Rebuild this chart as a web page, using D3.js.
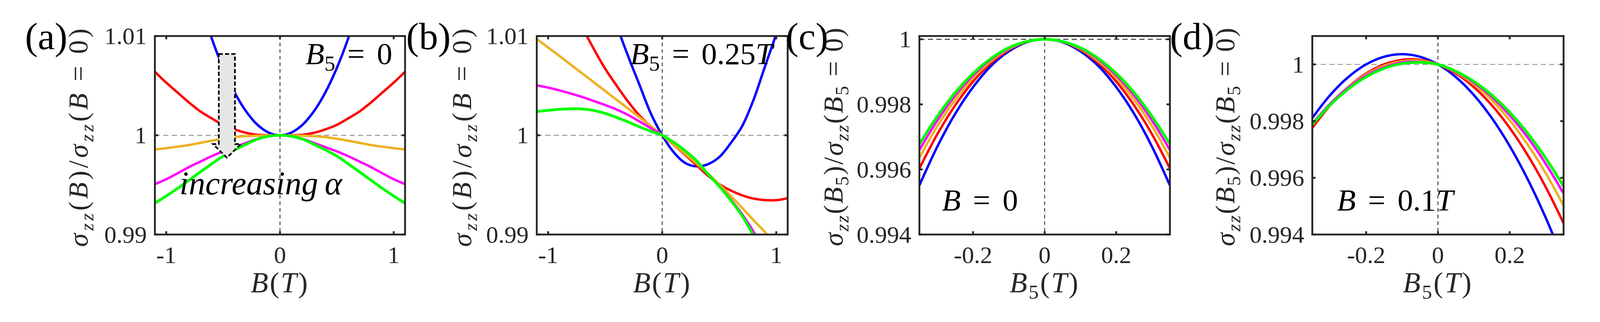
<!DOCTYPE html>
<html><head><meta charset="utf-8">
<script src="https://cdn.jsdelivr.net/npm/d3@7"></script>
<style>
html,body{margin:0;padding:0;width:100%;height:100%;overflow:hidden;background:#fff}
#chart{display:block;width:100vw;height:100vh}
</style>
</head><body>
<svg id="chart" viewBox="0 0 4349 825" preserveAspectRatio="xMidYMin meet" xmlns="http://www.w3.org/2000/svg"></svg>
<script>
// ---------------- DATA ----------------
const seriesColors = ["#0000ff", "#ff0000", "#edb120", "#ff00ff", "#00ff00"];

// Panels (a),(b): B from -1.1 to 1.1 T
const bGrid = [-1.1,-1.0,-0.9,-0.8,-0.7,-0.6,-0.5,-0.4,-0.3,-0.2,-0.1,0,0.1,0.2,0.3,0.4,0.5,0.6,0.7,0.8,0.9,1.0,1.1];

// (a) B5 = 0
const aBlue    = [1.0328,1.0271,1.0220,1.0174,1.0133,1.00976,1.00678,1.00434,1.00244,1.00108,1.00027,1.00000,1.00027,1.00108,1.00244,1.00434,1.00678,1.00976,1.0133,1.0174,1.0220,1.0271,1.0328];
const aRed     = [1.0064,1.0053,1.0043,1.0033,1.0024,1.0017,1.00105,1.0006,1.00025,1.00005,1.00001,1.00000,1.00001,1.00005,1.00025,1.0006,1.00105,1.0017,1.0024,1.0033,1.0043,1.0053,1.0064];
const aOrange  = [0.99857,0.9987,0.99885,0.99902,0.99924,0.99945,0.99965,0.99982,0.99991,0.99996,0.99999,1.00000,0.99999,0.99996,0.99991,0.99982,0.99965,0.99945,0.99924,0.99902,0.99885,0.9987,0.99857];
const aMagenta = [0.99508,0.99557,0.99617,0.9968,0.99735,0.9979,0.99838,0.9988,0.99922,0.99963,0.99991,1.00000,0.99991,0.99963,0.99922,0.9988,0.99838,0.9979,0.99735,0.9968,0.99617,0.99557,0.99508];
const aGreen   = [0.99316,0.99388,0.99465,0.99548,0.9963,0.99712,0.9979,0.99852,0.99908,0.9996,0.9999,1.00000,0.9999,0.9996,0.99908,0.99852,0.9979,0.99712,0.9963,0.99548,0.99465,0.99388,0.99316];

// (b) B5 = 0.25 T
const bBlue    = [1.046,1.0405,1.035,1.030,1.0252,1.0205,1.0158,1.0112,1.0080,1.0051,1.0022,1.0000,0.9983,0.99722,0.99687,0.99708,0.9978,0.9992,1.0009,1.00355,1.0069,1.0102,1.0137];
const bRed     = [1.0220,1.0190,1.0162,1.0135,1.0109,1.0087,1.0067,1.0050,1.0034,1.0020,1.0009,1.0000,0.99905,0.99805,0.99700,0.99595,0.99508,0.99444,0.99395,0.99362,0.99347,0.99346,0.99366];
const bOrange  = [1.0097,1.00884,1.00798,1.0071,1.00622,1.00534,1.00446,1.00358,1.0027,1.00182,1.00092,1.0000,0.99908,0.99814,0.99718,0.99615,0.99505,0.9939,0.9927,0.99145,0.99025,0.9889,0.9875];
const bMagenta = [1.00503,1.0048,1.00452,1.0042,1.00385,1.00345,1.00305,1.0026,1.00205,1.0014,1.00072,1.0000,0.9993,0.99845,0.99742,0.99612,0.9949,0.99355,0.99205,0.9903,0.9883,0.9861,0.9837];
const bGreen   = [1.0024,1.00251,1.00262,1.00267,1.00265,1.0025,1.0022,1.0018,1.00135,1.00085,1.0004,1.0000,0.9993,0.99845,0.99745,0.9961,0.99485,0.99345,0.9919,0.9899,0.9877,0.9852,0.9825];

// Panels (c),(d): B5 from -0.35 to 0.35 T
const b5Grid = [-0.35,-0.30,-0.25,-0.20,-0.15,-0.10,-0.05,0,0.05,0.10,0.15,0.20,0.25,0.30,0.35];

// (c) B = 0
const cBlue    = [0.99551,0.99670,0.99771,0.99853,0.99918,0.99963,0.99991,1.00000,0.99991,0.99963,0.99918,0.99853,0.99771,0.99670,0.99551];
const cRed     = [0.99603,0.99708,0.99797,0.99870,0.99927,0.99968,0.99992,1.00000,0.99992,0.99968,0.99927,0.99870,0.99797,0.99708,0.99603];
const cOrange  = [0.99636,0.99733,0.99814,0.99881,0.99933,0.99970,0.99993,1.00000,0.99993,0.99970,0.99933,0.99881,0.99814,0.99733,0.99636];
const cMagenta = [0.99660,0.99750,0.99827,0.99889,0.99938,0.99972,0.99993,1.00000,0.99993,0.99972,0.99938,0.99889,0.99827,0.99750,0.99660];
const cGreen   = [0.99678,0.99763,0.99836,0.99895,0.99941,0.99974,0.99993,1.00000,0.99993,0.99974,0.99941,0.99895,0.99836,0.99763,0.99678];

// (d) B = 0.1 T
const dBlue    = [0.99811,0.99892,0.99955,1.00000,1.00027,1.00036,1.00027,1.00000,0.99955,0.99892,0.99811,0.99712,0.99595,0.99460,0.99307];
const dRed     = [0.99776,0.99856,0.99920,0.99968,1.00000,1.00016,1.00016,1.00000,0.99968,0.99920,0.99856,0.99776,0.99680,0.99568,0.99440];
const dOrange  = [0.99787,0.99861,0.99920,0.99965,0.99995,1.00011,1.00013,1.00000,0.99972,0.99930,0.99874,0.99803,0.99717,0.99617,0.99502];
const dMagenta = [0.99791,0.99861,0.99918,0.99961,0.99990,1.00007,1.00009,1.00000,0.99974,0.99936,0.99885,0.99820,0.99742,0.99650,0.99545];
const dGreen   = [0.99788,0.99857,0.99913,0.99956,0.99986,1.00003,1.00007,1.00000,0.99976,0.99940,0.99892,0.99831,0.99757,0.99670,0.99570];

// Ticks
const xTicksB  = [-1, 0, 1];
const xTickLabelsB = ["-1", "0", "1"];
const yTicksAB = [0.99, 1, 1.01];
const yTickLabelsAB = ["0.99", "1", "1.01"];
const xTicksB5 = [-0.2, 0, 0.2];
const xTickLabelsB5 = ["-0.2", "0", "0.2"];
const yTicksCD = [0.994, 0.996, 0.998, 1];
const yTickLabelsCD = ["0.994", "0.996", "0.998", "1"];

// Arrow in panel (a) (data coordinates)
const arrowPts = [[-0.538,1.00819],[-0.396,1.00819],[-0.396,0.99911],[-0.345,0.99911],[-0.467,0.99774],[-0.589,0.99911],[-0.538,0.99911]];

// ---------------- DRAW ----------------
const svg = d3.select("#chart");
const AX = "#262626";
const SERIF = "'Liberation Serif','Times New Roman',serif";
const plotTop = 98, plotBottom = 638;

const panels = [
  {key:"a", left:421, right:1101, xDom:[-1.1,1.1], yDom:[0.99,1.01], xs:bGrid,
   ys:[aBlue,aRed,aOrange,aMagenta,aGreen], xt:xTicksB, xtl:xTickLabelsB, yt:yTicksAB, ytl:yTickLabelsAB,
   tag:"(a)", tagX:68, ylabX:238, b5:false, hDashColor:"#8c8c8c"},
  {key:"b", left:1459, right:2141, xDom:[-1.1,1.1], yDom:[0.99,1.01], xs:bGrid,
   ys:[bBlue,bRed,bOrange,bMagenta,bGreen], xt:xTicksB, xtl:xTickLabelsB, yt:yTicksAB, ytl:yTickLabelsAB,
   tag:"(b)", tagX:1104, ylabX:1280, b5:false, hDashColor:"#8c8c8c"},
  {key:"c", left:2499, right:3180, xDom:[-0.35,0.35], yDom:[0.994,1.0001], xs:b5Grid,
   ys:[cBlue,cRed,cOrange,cMagenta,cGreen], xt:xTicksB5, xtl:xTickLabelsB5, yt:yTicksCD, ytl:yTickLabelsCD,
   tag:"(c)", tagX:2136, ylabX:2290, b5:true, hDashColor:"#222222"},
  {key:"d", left:3567, right:4250, xDom:[-0.35,0.35], yDom:[0.994,1.001], xs:b5Grid,
   ys:[dBlue,dRed,dOrange,dMagenta,dGreen], xt:xTicksB5, xtl:xTickLabelsB5, yt:yTicksCD, ytl:yTickLabelsCD,
   tag:"(d)", tagX:3180, ylabX:3355, b5:true, hDashColor:"#8c8c8c"}
];

const defs = svg.append("defs");

function addRich(textSel, parts, baseSize) {
  let shift = 0;
  parts.forEach(p => {
    const ts = textSel.append("tspan").text(p.t);
    if (p.it) ts.attr("font-style", "italic");
    const target = p.sub ? Math.round(baseSize * 0.22) : 0;
    if (target !== shift) { ts.attr("dy", target - shift); shift = target; }
    ts.attr("font-size", p.sub ? baseSize * 0.7 : baseSize);
  });
}

panels.forEach(p => {
  const x = d3.scaleLinear().domain(p.xDom).range([p.left, p.right]);
  const y = d3.scaleLinear().domain(p.yDom).range([plotBottom, plotTop]);
  const g = svg.append("g");

  defs.append("clipPath").attr("id", "clip-" + p.key)
    .append("rect").attr("x", p.left).attr("y", plotTop).attr("width", p.right - p.left).attr("height", plotBottom - plotTop);

  // reference dashed lines
  g.append("line").attr("x1", p.left).attr("x2", p.right).attr("y1", y(1)).attr("y2", y(1))
    .attr("stroke", p.hDashColor).attr("stroke-width", 2.2).attr("stroke-dasharray", "14,9");
  g.append("line").attr("x1", x(0)).attr("x2", x(0)).attr("y1", plotTop).attr("y2", plotBottom)
    .attr("stroke", "#111").attr("stroke-width", 2).attr("stroke-dasharray", "10,8");

  // curves
  const line = d3.line().x(d => x(d[0])).y(d => y(d[1])).curve(d3.curveCatmullRom.alpha(0.5));
  const cg = g.append("g").attr("clip-path", `url(#clip-${p.key})`);
  p.ys.forEach((vals, i) => {
    cg.append("path").datum(p.xs.map((v, j) => [v, vals[j]]))
      .attr("d", line).attr("fill", "none").attr("stroke", seriesColors[i])
      .attr("stroke-width", i === 4 ? 7.5 : 6.5).attr("stroke-linejoin", "round");
  });

  // box
  g.append("rect").attr("x", p.left).attr("y", plotTop).attr("width", p.right - p.left).attr("height", plotBottom - plotTop)
    .attr("fill", "none").attr("stroke", AX).attr("stroke-width", 5);

  // ticks (inward, all four sides)
  const tl = 9;
  p.xt.forEach(t => {
    g.append("line").attr("x1", x(t)).attr("x2", x(t)).attr("y1", plotBottom).attr("y2", plotBottom - tl).attr("stroke", AX).attr("stroke-width", 5);
    g.append("line").attr("x1", x(t)).attr("x2", x(t)).attr("y1", plotTop).attr("y2", plotTop + tl).attr("stroke", AX).attr("stroke-width", 5);
  });
  p.yt.forEach(t => {
    g.append("line").attr("x1", p.left).attr("x2", p.left + tl).attr("y1", y(t)).attr("y2", y(t)).attr("stroke", AX).attr("stroke-width", 5);
    g.append("line").attr("x1", p.right).attr("x2", p.right - tl).attr("y1", y(t)).attr("y2", y(t)).attr("stroke", AX).attr("stroke-width", 5);
  });

  // tick labels
  p.xt.forEach((t, i) => {
    g.append("text").attr("x", x(t)).attr("y", 716).attr("text-anchor", "middle")
      .attr("font-family", SERIF).attr("font-size", 66).attr("fill", AX).text(p.xtl[i]);
  });
  p.yt.forEach((t, i) => {
    g.append("text").attr("x", p.left - 22).attr("y", y(t) + 22).attr("text-anchor", "end")
      .attr("font-family", SERIF).attr("font-size", 66).attr("fill", AX).text(p.ytl[i]);
  });

  // x-axis label
  const xl = g.append("text").attr("x", x(0)).attr("y", 795).attr("text-anchor", "middle")
    .attr("font-family", SERIF).attr("fill", AX).attr("font-size", 78).attr("letter-spacing", 4);
  const xparts = p.b5
    ? [{t:"B",it:1},{t:"5",sub:1},{t:"("},{t:"T",it:1},{t:")"}]
    : [{t:"B",it:1},{t:"("},{t:"T",it:1},{t:")"}];
  addRich(xl, xparts, 78);

  // y-axis label (rotated)
  const yl = g.append("text").attr("transform", `translate(${p.ylabX},371) rotate(-90)`)
    .attr("text-anchor", "middle").attr("font-family", SERIF).attr("fill", AX).attr("font-size", 74);
  const Bpart = p.b5 ? [{t:"(",},{t:"B",it:1},{t:"5",sub:1},{t:")"}] : [{t:"("},{t:"B",it:1},{t:")"}];
  const Bpart2 = p.b5 ? [{t:"("},{t:"B",it:1},{t:"5",sub:1},{t:" = 0)"}] : [{t:"("},{t:"B",it:1},{t:" = 0)"}];
  addRich(yl, [{t:"σ",it:1},{t:"zz",it:1,sub:1}].concat(Bpart, [{t:"/"},{t:"σ",it:1},{t:"zz",it:1,sub:1}], Bpart2), 74);
  const L = yl.node().getComputedTextLength();
  const n = yl.text().length;
  if (L < 594 && n > 1) yl.attr("letter-spacing", (594 - L) / (n - 1));

  // panel tag
  svg.append("text").attr("x", p.tagX).attr("y", 134).attr("font-family", SERIF)
    .attr("font-size", 104).attr("fill", "#000").text(p.tag);

  p.x = x; p.y = y;
});

// annotations
function annot(p, fx, by, parts) {
  const t = svg.append("text").attr("x", p.left + fx * (p.right - p.left)).attr("y", by)
    .attr("font-family", SERIF).attr("fill", "#000").attr("font-size", 84).attr("word-spacing", 12);
  addRich(t, parts, 84);
}
annot(panels[0], 0.602, 174, [{t:"B",it:1},{t:"5",sub:1},{t:" = 0"}]);
annot(panels[1], 0.372, 174, [{t:"B",it:1},{t:"5",sub:1},{t:" = 0.25"},{t:"T",it:1}]);
annot(panels[2], 0.090, 572, [{t:"B",it:1},{t:" = 0"}]);
annot(panels[3], 0.098, 572, [{t:"B",it:1},{t:" = 0.1"},{t:"T",it:1}]);

// arrow in (a)
const pa = panels[0];
svg.append("polygon")
  .attr("points", arrowPts.map(d => [pa.x(d[0]), pa.y(d[1])].join(",")).join(" "))
  .attr("fill", "#e6e6e6").attr("stroke", "#000").attr("stroke-width", 4.5)
  .attr("stroke-dasharray", "11,6").attr("stroke-linejoin", "miter");

svg.append("text").attr("x", pa.left + 67).attr("y", 529).attr("font-family", SERIF)
  .attr("font-style", "italic").attr("font-size", 90).attr("fill", "#000").text("increasing\u2009α");
</script>
</body></html>
